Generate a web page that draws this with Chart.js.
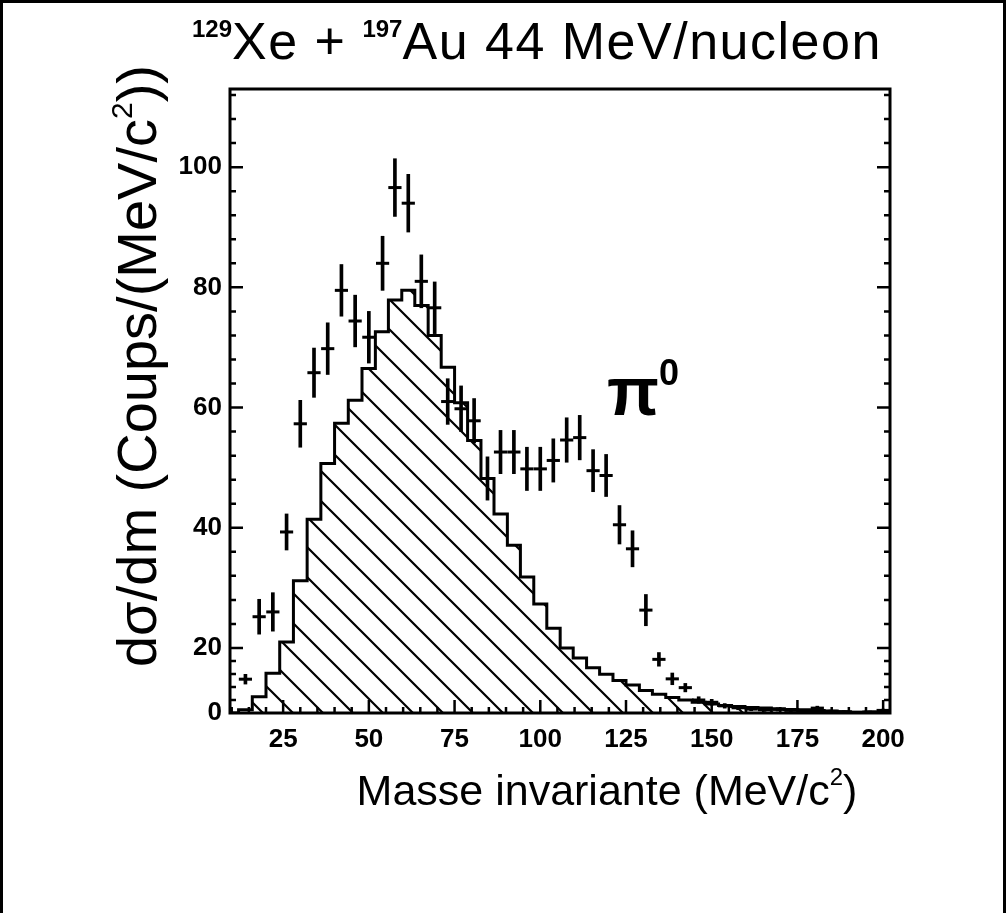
<!DOCTYPE html>
<html>
<head>
<meta charset="utf-8">
<script src="https://cdn.jsdelivr.net/npm/chart.js@4.4.1/dist/chart.umd.min.js"></script>
<style>
  html, body { margin: 0; padding: 0; background: #fff; }
  #wrap { position: relative; width: 1006px; height: 913px; overflow: hidden; }
  #border { position: absolute; left: 0; top: 0; width: 1006px; height: 913px;
            box-sizing: border-box; border: 3px solid #000; border-bottom: none; }
  #chart { position: absolute; left: 0; top: 0; }
  .txt { position: absolute; font-family: 'Liberation Sans', Arial, sans-serif;
         color: #000; white-space: nowrap; line-height: 1; }
  .txt sup { line-height: 0; }
</style>
</head>
<body>
<div id="wrap">
  <canvas id="chart" width="1006" height="913"></canvas>
  <div id="border"></div>
  <div class="txt" id="title" style="left:192px; top:15px; font-size:52px; letter-spacing:1.5px;">
    <sup style="font-size:24px; font-weight:bold; vertical-align:22px; letter-spacing:0;">129</sup>Xe + <sup style="font-size:24px; font-weight:bold; vertical-align:22px; letter-spacing:0;">197</sup>Au 44 MeV/nucleon
  </div>
  <div class="txt" id="ytitle" style="left:137px; top:366px; font-size:56px;
       transform: translate(-50%,-50%) rotate(-90deg);">
    dσ/dm (Coups/(MeV/c<sup style="font-size:30px; vertical-align:24px;">2</sup>))
  </div>
  <div class="txt" id="xtitle" style="left:607px; top:790px; font-size:43px;
       transform: translate(-50%,-50%);">
    Masse invariante (MeV/c<sup style="font-size:24px; vertical-align:20px;">2</sup>)
  </div>
  <div class="txt" id="pi0" style="left:607px; top:357px; font-size:68px; font-weight:bold;">
    π<sup style="font-size:36px; vertical-align:30px;">0</sup>
  </div>
</div>
<script>
// ─── DATA ─────────────────────────────────────────────────────
// hatched histogram: left edge of each bin (MeV/c²) and its content
const binLeft = [9.5, 12, 16, 20, 24, 28, 32, 36, 40, 44, 48, 51.9, 55.7, 59.6, 63.4, 67.3, 71.1,
                 75.0, 78.8, 82.7, 86.5, 90.4, 94.2, 98.1, 101.9, 105.8, 109.6, 113.5, 117.3,
                 121.2, 125.0, 128.9, 132.7, 136.6, 140.4, 144.3, 148.1, 152.0, 155.8, 159.7,
                 163.5, 167.4, 171.2, 175.1, 178.9, 182.8, 186.6, 190.5, 194.3, 198.2];
const histValues = [0, 1, 5, 12.2, 21, 31.2, 41.4, 50.7, 57.4, 61.2, 66.5, 72.6, 77.9, 79.5, 77,
                    72, 66.7, 60.8, 54.5, 48.2, 42.3, 37.1, 31.8, 27.3, 23.3, 20, 16.9, 13.9, 11.9,
                    10, 8.6, 6.9, 5.8, 4.8, 4, 3.3, 2.8, 2.3, 2, 1.7, 1.5, 1.3, 1.1, 1, 0.8, 0.6,
                    0.4, 0.2, 0.3, 0.3];
const histEnd = 202;

// measured points: position, value and error
const ptX = [14, 18, 22, 26, 30, 34, 38, 42, 46, 50, 54, 57.6, 61.5, 65.3, 69.2, 73.0, 76.9,
             80.7, 84.6, 88.4, 92.3, 96.1, 100.0, 103.8, 107.7, 111.5, 115.4, 119.2, 123.1,
             126.9, 130.8, 134.6, 138.5, 142.3, 146.2, 150.0, 153.8, 157.7, 161.5, 165.4, 169.2,
             173.1, 176.9, 180.8, 184.6, 188.5, 192.3, 196.2, 200.0];
const ptY = [10.4, 25.2, 26, 39.3, 57.3, 65.8, 69.8, 79.5, 74.4, 71.7, 84, 96.6, 94, 81, 76.6, 61,
             59.8, 57.8, 48.2, 52.6, 52.6, 49.8, 49.8, 51.2, 54.6, 55, 49.5, 48.7, 40.5, 36.5,
             26.3, 16.5, 10.5, 7.8, 4, 3.3, 2.2, 1.6, 1.2, 1, 1.1, 0.8, 0.7, 1.5, 0.5, 0.4, 0.2,
             0.3, 0.8];
const ptErr = [1.5, 2.9, 3.2, 3.0, 3.9, 4.1, 4.3, 4.3, 4.3, 4.3, 4.5, 4.8, 4.8, 4.4, 4.3, 3.8, 3.8,
               3.7, 3.6, 3.6, 3.6, 3.6, 3.6, 3.6, 3.7, 3.7, 3.5, 3.5, 3.2, 3.0, 2.6, 2.1, 1.8,
               1.3, 1.0, 0.9, 0.7, 0.6, 0.5, 0.5, 0.5, 0.4, 0.4, 0.6, 0.4, 0.3, 0.3, 0.3, 0.4];

const xTicks = [25, 50, 75, 100, 125, 150, 175, 200];
const yTicks = [0, 20, 40, 60, 80, 100];

// the printed y axis is squeezed below 20: that part takes ~10% of the height
const Y_SPLIT = 20;
const Y_SPLIT_FRAC = 0.1042;

// ─── SQUEEZED LINEAR SCALE ────────────────────────────────────
class SplitLinearScale extends Chart.LinearScale {
  _toDecimal(v) {
    if (v <= Y_SPLIT) return (v - this.min) / (Y_SPLIT - this.min) * Y_SPLIT_FRAC;
    return Y_SPLIT_FRAC + (v - Y_SPLIT) / (this.max - Y_SPLIT) * (1 - Y_SPLIT_FRAC);
  }
  getPixelForValue(value) {
    return this.getPixelForDecimal(this._toDecimal(value));
  }
  getValueForPixel(pixel) {
    const d = this.getDecimalForPixel(pixel);
    if (d <= Y_SPLIT_FRAC) return this.min + d / Y_SPLIT_FRAC * (Y_SPLIT - this.min);
    return Y_SPLIT + (d - Y_SPLIT_FRAC) / (1 - Y_SPLIT_FRAC) * (this.max - Y_SPLIT);
  }
}
SplitLinearScale.id = 'splitLinear';
SplitLinearScale.defaults = Chart.LinearScale.defaults;
Chart.register(SplitLinearScale);

// ─── HATCH PATTERN ────────────────────────────────────────────
function makeHatch() {
  const pc = document.createElement('canvas');
  pc.width = 30; pc.height = 30;
  const g = pc.getContext('2d');
  g.strokeStyle = '#000';
  g.lineWidth = 2.2;
  g.beginPath();
  g.moveTo(-5, -5);  g.lineTo(35, 35);
  g.moveTo(-5, 25);  g.lineTo(5, 35);
  g.moveTo(25, -5);  g.lineTo(35, 5);
  g.stroke();
  return g.createPattern(pc, 'repeat');
}

// ─── FRAME + INWARD TICKS ─────────────────────────────────────
const frameTicks = {
  id: 'frameTicks',
  afterDatasetsDraw(chart) {
    const { ctx, chartArea: a, scales: { x, y } } = chart;
    ctx.save();
    ctx.strokeStyle = '#000';
    ctx.lineWidth = 3;
    ctx.strokeRect(a.left, a.top, a.right - a.left, a.bottom - a.top);
    ctx.lineWidth = 2.5;
    ctx.beginPath();
    for (let v = 4; v <= y.max; v += 4) {
      const py = y.getPixelForValue(v);
      const len = v % 20 === 0 ? 13 : 6;
      ctx.moveTo(a.left, py);  ctx.lineTo(a.left + len, py);
      ctx.moveTo(a.right, py); ctx.lineTo(a.right - len, py);
    }
    for (let v = 10; v <= 200; v += 5) {
      const px = x.getPixelForValue(v);
      const len = v % 25 === 0 ? 13 : 6;
      ctx.moveTo(px, a.bottom); ctx.lineTo(px, a.bottom - len);
    }
    ctx.stroke();
    ctx.restore();
  }
};

// ─── CHART ────────────────────────────────────────────────────
const histData = binLeft.map((b, i) => ({ x: b, y: histValues[i] }));
histData.push({ x: histEnd, y: 0 });

const tickFont = { family: "'Liberation Sans', Arial, sans-serif", size: 26, weight: 'bold' };

new Chart(document.getElementById('chart'), {
  type: 'scatter',
  data: {
    datasets: [
      {
        type: 'line',
        data: histData,
        stepped: true,
        fill: 'origin',
        backgroundColor: makeHatch(),
        borderColor: '#000',
        borderWidth: 3,
        pointRadius: 0
      },
      {
        type: 'bar',
        data: ptX.map((v, i) => ({ x: v, y: [ptY[i] - ptErr[i], ptY[i] + ptErr[i]] })),
        backgroundColor: '#000',
        barThickness: 3,
        grouped: false
      },
      {
        type: 'scatter',
        data: ptX.map((v, i) => ({ x: v, y: ptY[i] })),
        pointStyle: 'line',
        pointRadius: 6.6,
        borderColor: '#000',
        borderWidth: 3
      }
    ]
  },
  options: {
    responsive: false,
    animation: false,
    layout: { padding: { left: 0, right: 116, top: 89, bottom: 0 } },
    plugins: { legend: { display: false }, tooltip: { enabled: false } },
    scales: {
      x: {
        type: 'linear', min: 9.5, max: 202, offset: false,
        grid: { display: false, drawTicks: false },
        border: { display: false },
        afterBuildTicks: s => { s.ticks = xTicks.map(v => ({ value: v })); },
        afterFit: s => { s.height = 200; },
        ticks: { color: '#000', font: tickFont, padding: 11, maxRotation: 0 }
      },
      y: {
        type: 'splitLinear', min: 0, max: 113,
        grid: { display: false, drawTicks: false },
        border: { display: false },
        afterBuildTicks: s => { s.ticks = yTicks.map(v => ({ value: v })); },
        afterFit: s => { s.width = 230; },
        ticks: { color: '#000', font: tickFont, padding: 8 }
      }
    }
  },
  plugins: [frameTicks]
});
</script>
</body>
</html>
